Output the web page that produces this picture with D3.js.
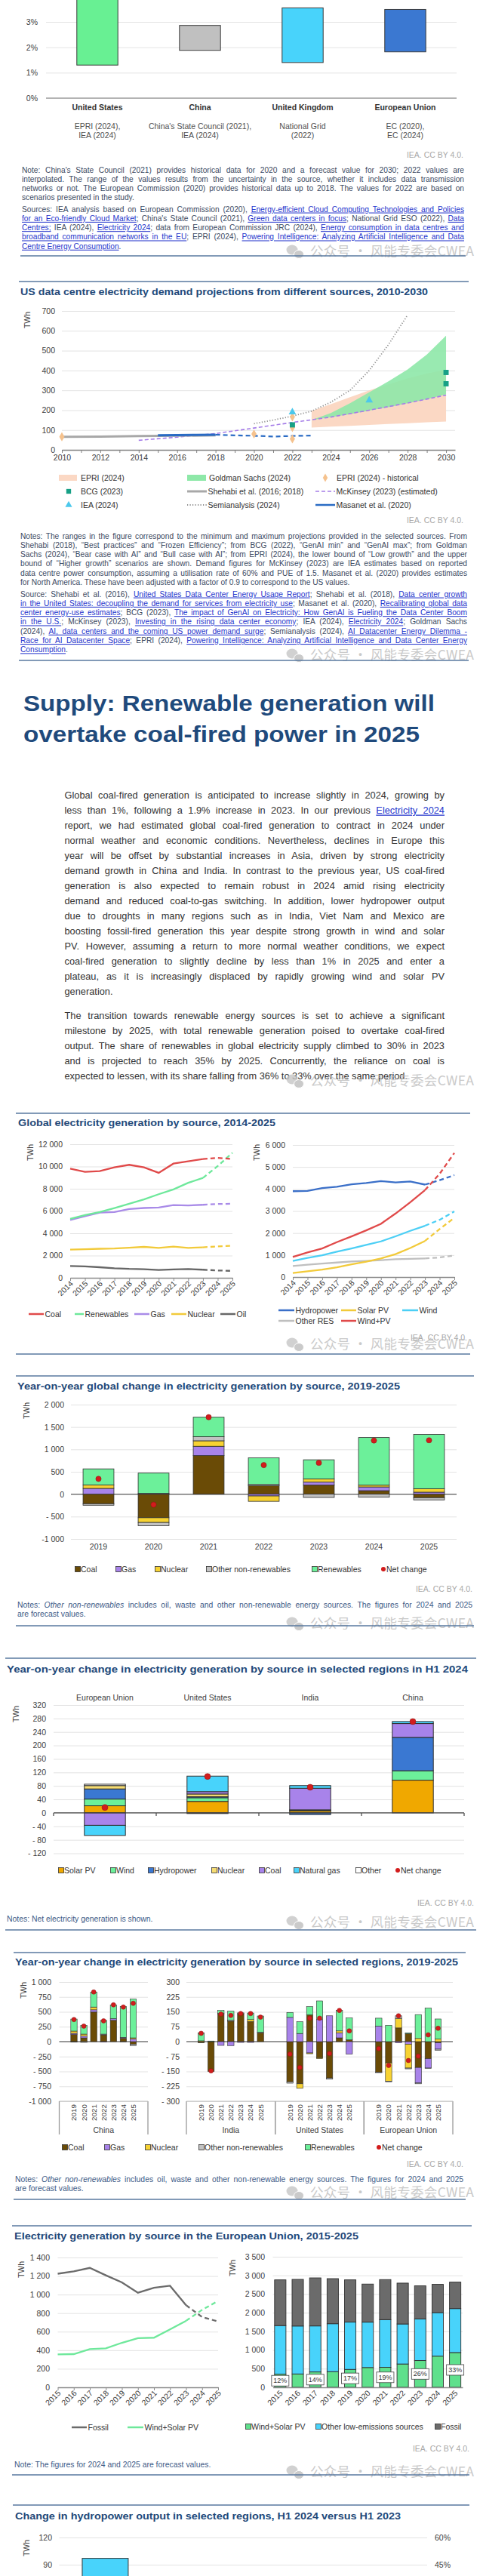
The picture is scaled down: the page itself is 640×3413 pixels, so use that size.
<!DOCTYPE html>
<html>
<head>
<meta charset="utf-8">
<title>Electricity mid-year update</title>
<script src="https://cdn.jsdelivr.net/npm/d3@7/dist/d3.min.js"></script>
<style>
  body { margin: 0; background: #fff; }
  svg { display: block; }
</style>
</head>
<body>
<svg id="page" width="640" height="3413"></svg>
<script>
// ---------- data: data centre share of electricity demand (top chart, cut off) ----------
const shareRegions = ['United States', 'China', 'United Kingdom', 'European Union'];
const shareSources = [['EPRI (2024),', 'IEA (2024)'], ["China's State Council (2021),", 'IEA (2024)'], ['National Grid', '(2022)'], ['EC (2020),', 'EC (2024)']];
const shareLow = [1.3, 1.88, 1.4, 1.82];
const shareHigh = [4.6, 2.86, 3.55, 3.49];

// ---------- data: US data centre demand projections (TWh) ----------
const epriYears = [2023, 2024, 2025, 2026, 2027, 2028, 2029, 2030];
const epriLow = [112, 117, 121, 126, 130, 134, 139, 143];
const epriHigh = [196, 230, 265, 300, 330, 360, 385, 404];
const gsYears = [2023, 2024, 2025, 2026, 2027, 2028, 2029, 2030];
const gsLow = [150, 165, 180, 198, 215, 235, 255, 280];
const gsHigh = [150, 185, 235, 290, 345, 405, 480, 575];
const shehabiYears = [2010, 2012, 2014, 2016, 2018];
const shehabiVals = [66, 67, 69, 71, 73];
const masanetYears = [2015, 2016, 2017, 2018, 2019, 2020, 2021, 2022, 2023];
const masanetVals = [73, 74, 75, 76, 73, 71, 67, 70, 72];
const mckYears = [2014, 2016, 2018, 2020, 2022, 2024, 2026, 2028, 2030];
const mckVals = [48, 64, 82, 110, 138, 165, 200, 236, 276];
const semiYears = [2020, 2021, 2022, 2023, 2024, 2025, 2026, 2027, 2028];
const semiVals = [132, 150, 170, 195, 240, 300, 400, 530, 680];
const epriHist = [[2010, 66], [2020, 80], [2022, 55], [2022, 112], [2022, 166]];
const bcgPoints = [[2022, 126], [2030, 390], [2030, 333]];
const ieaPoints = [[2022, 190], [2026, 250]];

// ---------- data: global generation by source 2014-2025 (TWh) ----------
const genYears = [2014, 2015, 2016, 2017, 2018, 2019, 2020, 2021, 2022, 2023, 2024, 2025];
const genCoal = [9810, 9520, 9590, 9920, 10150, 9920, 9430, 10260, 10470, 10670, 10780, 10670];
const genRenew = [5300, 5640, 5910, 6270, 6650, 7040, 7510, 7940, 8530, 8980, 10040, 11230];
const genGas = [5190, 5530, 5860, 5910, 6180, 6270, 6320, 6540, 6500, 6560, 6630, 6650];
const genNuclear = [2530, 2570, 2610, 2630, 2710, 2780, 2680, 2800, 2690, 2740, 2820, 2880];
const genOil = [1060, 1030, 950, 860, 800, 770, 700, 760, 790, 730, 660, 620];
const genHydro = [3900, 3910, 4040, 4100, 4210, 4270, 4360, 4300, 4340, 4200, 4400, 4630];
const genSolar = [185, 260, 340, 445, 580, 700, 845, 1040, 1320, 1640, 2180, 2690];
const genWind = [730, 870, 990, 1150, 1300, 1460, 1620, 1850, 2100, 2330, 2600, 2980];
const genOtherRes = [500, 560, 615, 660, 705, 730, 765, 810, 830, 845, 890, 980];
const genWindPv = [913, 1118, 1301, 1586, 1848, 2122, 2419, 2887, 3400, 3948, 4690, 5637];

// ---------- data: global year-on-year change 2019-2025 (TWh) ----------
const yoyYears = ['2019', '2020', '2021', '2022', '2023', '2024', '2025'];
const yoyCoal = [-213, -526, 862, 190, 202, 78, -78];
const yoyGas = [129, 17, 207, -40, 67, 84, 45];
const yoyNuclear = [78, -106, 123, -120, 73, 39, 78];
const yoyOther = [-34, -73, 90, 28, -73, -67, -50];
const yoyRenew = [358, 454, 437, 594, 426, 1064, 1210];
const yoyNet = [342, -235, 1719, 650, 700, 1198, 1204];

// ---------- data: H1 2024 change by region (TWh) ----------
const h1Regions = ['European Union', 'United States', 'India', 'China'];
const h1Solar = [21, 34, 6, 97];
const h1Wind = [20, 11, 2, 28];
const h1Hydro = [30, 3, -5, 99];
const h1Nuclear = [10, 8, 1, 0];
const h1Coal = [-37, 7, 64, 41];
const h1Gas = [-30, 46, 8, 6];
const h1Other = [4, -2, 0, 0];
const h1Net = [16, 108, 76, 271];

// ---------- data: regional year-on-year change 2019-2025 (TWh) ----------
const chinaYoY = {
  coal: [118, 63, 496, 113, 357, 55, -45], gas: [21, 29, 38, -8, 29, 17, 42], nuclear: [38, 34, 46, 0, 0, 0, 21],
  other: [-9, -13, 0, 13, 0, -8, -22], renew: [202, 147, 252, 231, 231, 517, 651], net: [370, 260, 832, 349, 617, 580, 643]
};
const indiaYoY = {
  coal: [-6, -150, 139, 103, 141, 101, 44], gas: [0, 0, -19, -20, -4, -4, 0], nuclear: [4, 0, 0, 0, 0, 10, 0],
  other: [0, 0, 4, 5, 4, 0, 3], renew: [40, 3, 14, 45, 0, 33, 82], net: [42, -147, 139, 132, 141, 141, 123]
};
const usYoY = {
  coal: [-202, -212, 135, -82, -183, 19, 9], gas: [122, 41, -57, 111, 130, 25, -63], nuclear: [0, -23, -4, -4, 0, 10, 0],
  other: [-7, 0, 0, 0, -6, 0, 0], renew: [25, 59, 41, 94, 0, 103, 110], net: [-63, -130, 118, 118, -60, 157, 54]
};
const euYoY = {
  coal: [-154, -107, 69, 40, -130, -86, -6], gas: [78, 0, -6, -13, -78, -47, -32], nuclear: [0, -92, 48, -120, 16, 0, 13],
  other: [-2, -3, 13, -4, -4, -2, -6], renew: [40, 82, 0, 4, 120, 169, 101], net: [-35, -120, 130, -95, -73, 34, 67]
};

// ---------- data: EU generation 2015-2025 (TWh) ----------
const euYears = ['2015', '2016', '2017', '2018', '2019', '2020', '2021', '2022', '2023', '2024', '2025'];
const euFossil = [1225, 1250, 1288, 1208, 1132, 1020, 1073, 1095, 886, 758, 710];
const euWindSolar = [355, 358, 412, 420, 480, 530, 535, 625, 717, 835, 932];
const euOtherLow = [1300, 1285, 1233, 1285, 1268, 1217, 1279, 1073, 1117, 1167, 1178];

// ---------- data: hydropower change H1 2024 vs H1 2023 (only first bar reaches the page) ----------
const hydroValues = [97];

// ---------- helpers ----------
const FONT = '"Liberation Sans", Arial, sans-serif';
const PAGE_H = 3413;
const svg = d3.select('#page').attr('font-family', FONT);
const thou = d3.format(',');

function fmtNum(v) {
  const s = thou(Math.abs(v)).replace(/,/g, ' ');
  if (v < 0) return (Math.abs(v) >= 1000 ? '-' : '- ') + s;
  return s;
}

function rule(y, x1, x2) {
  svg.append('line').attr('x1', x1).attr('x2', x2).attr('y1', y).attr('y2', y)
    .attr('stroke', '#58799f').attr('stroke-width', 1.4);
}

function hline(x1, x2, y, color, w) {
  svg.append('line').attr('x1', x1).attr('x2', x2).attr('y1', y).attr('y2', y)
    .attr('stroke', color).attr('stroke-width', w);
}

function title(txt, x, cy, w) {
  svg.append('text').attr('x', x).attr('y', cy + 4.5)
    .attr('font-size', 13).attr('font-weight', 'bold').attr('fill', '#22497a')
    .attr('textLength', w).attr('lengthAdjust', 'spacingAndGlyphs').text(txt);
}

function credit(cy, xr) {
  svg.append('text').attr('x', xr).attr('y', cy + 3.7).attr('text-anchor', 'end')
    .attr('font-size', 10.5).attr('fill', '#a8a8a8').text('IEA. CC BY 4.0.');
}

function watermark(cy) {
  const g = svg.append('g').attr('opacity', 0.8);
  g.append('ellipse').attr('cx', 387).attr('cy', cy - 2).attr('rx', 7.5).attr('ry', 6.5).attr('fill', '#c6c6c6');
  g.append('ellipse').attr('cx', 396).attr('cy', cy + 4).attr('rx', 6.5).attr('ry', 5.5).attr('fill', '#bdbdbd')
    .attr('stroke', '#fff').attr('stroke-width', 1);
  g.append('text').attr('x', 411).attr('y', cy + 6).attr('font-family', '"Noto Sans CJK SC", sans-serif')
    .attr('font-size', 17.5).attr('fill', '#bdbdbd').attr('textLength', 217).attr('lengthAdjust', 'spacing')
    .text('公众号 · 风能专委会CWEA');
}

function ytitle(x, cy) {
  svg.append('text').attr('transform', `translate(${x},${cy}) rotate(-90)`).attr('text-anchor', 'middle')
    .attr('dy', '0.35em').attr('font-size', 10.5).attr('fill', '#404040').text('TWh');
}

// justified lines of running text; parts are plain strings or {t, link, it}
function lines(rows, x, cy, lh, w, size, color) {
  rows.forEach((row, i) => {
    const t = svg.append('text').attr('x', x).attr('y', cy + i * lh + size * 0.35)
      .attr('font-size', size).attr('fill', color);
    (Array.isArray(row) ? row : [row]).forEach(p => {
      const plain = typeof p === 'string';
      const s = t.append('tspan').text(plain ? p : p.t);
      if (!plain && p.link) s.attr('fill', '#2535cc').style('text-decoration', 'underline');
      if (!plain && p.it) s.attr('font-style', 'italic');
    });
    let nat = t.node().getComputedTextLength();
    if (nat > w) {
      // shrink a too-long line instead of squeezing glyphs together
      t.attr('font-size', size * w / nat * 0.995);
      nat = t.node().getComputedTextLength();
    }
    if (i === rows.length - 1) return;
    const gaps = (t.text().match(/ /g) || []).length;
    if (gaps && nat < w) t.attr('word-spacing', (w - nat) / gaps);
  });
}

function fixAxis(g) {
  g.attr('font-family', FONT).attr('font-size', 10.5);
  g.selectAll('.tick text').attr('fill', '#404040');
  return g;
}

function yGrid(x0, x1, y, ticks, pad, fmt) {
  const g = svg.append('g').attr('transform', `translate(${x0},0)`)
    .call(d3.axisLeft(y).tickValues(ticks).tickSize(x0 - x1).tickPadding(pad).tickFormat(fmt || fmtNum));
  g.select('.domain').remove();
  g.selectAll('.tick line').attr('stroke', '#e3e3e3');
  return fixAxis(g);
}

function tiltedAxis(y0, x, tick) {
  const g = svg.append('g').attr('transform', `translate(0,${y0})`)
    .call(d3.axisBottom(x).tickSize(tick).tickSizeOuter(0));
  g.select('.domain').attr('stroke', '#8c8c8c').attr('stroke-width', 1.3);
  g.selectAll('.tick line').attr('stroke', '#8c8c8c');
  g.selectAll('.tick text').attr('x', -3).attr('y', 5).attr('dy', '0.35em')
    .attr('transform', 'rotate(-45)').style('text-anchor', 'end');
  return fixAxis(g);
}

function stackBars(rows, keys, x, y, colors, sw) {
  const series = d3.stack().keys(keys).offset(d3.stackOffsetDiverging)(rows);
  svg.append('g').selectAll('g').data(series).join('g').attr('fill', (d, i) => colors[i])
    .selectAll('rect').data(d => d).join('rect')
    .attr('x', d => x(d.data.cat)).attr('width', x.bandwidth())
    .attr('y', d => y(d[1])).attr('height', d => Math.max(0, y(d[0]) - y(d[1])))
    .attr('stroke', d => d[1] !== d[0] ? '#2f2f2f' : 'none').attr('stroke-width', sw);
}

function netDots(cats, vals, x, y, r) {
  svg.append('g').selectAll('circle').data(cats).join('circle')
    .attr('cx', d => x(d) + x.bandwidth() / 2).attr('cy', (d, i) => y(vals[i])).attr('r', r)
    .attr('fill', '#d21c1c').attr('stroke', '#8a1414').attr('stroke-width', 0.5);
}

function legendSquare(x, cy, color, label) {
  svg.append('rect').attr('x', x - 3.5).attr('y', cy - 3.5).attr('width', 7).attr('height', 7)
    .attr('fill', color).attr('stroke', '#333').attr('stroke-width', 0.8);
  svg.append('text').attr('x', x + 4).attr('y', cy + 3.7).attr('font-size', 10.5).attr('fill', '#333').text(label);
}
function legendDot(x, cy, label) {
  svg.append('circle').attr('cx', x).attr('cy', cy).attr('r', 3).attr('fill', '#d21c1c');
  svg.append('text').attr('x', x + 4).attr('y', cy + 3.7).attr('font-size', 10.5).attr('fill', '#333').text(label);
}
function legendLine(x1, x2, cy, color, label, dash, w) {
  svg.append('line').attr('x1', x1).attr('x2', x2).attr('y1', cy).attr('y2', cy)
    .attr('stroke', color).attr('stroke-width', w || 2.5).attr('stroke-dasharray', dash || null);
  svg.append('text').attr('x', x2 + 1.5).attr('y', cy + 3.7).attr('font-size', 10.5).attr('fill', '#333').text(label);
}

const NOTE = '#3c4a62';
const NOTE2 = '#3d5a86';

// ================= top chart (continued from previous page) =================
{
  const x = d3.scaleBand().domain(shareRegions).range([61, 605]).paddingInner(0.6).paddingOuter(0.3);
  const y = d3.scaleLinear().domain([0, 4]).range([130, -4.7]);
  const colors = ['#68f093', '#c0c0c0', '#48d3fb', '#3b78d1'];
  yGrid(61, 605, y, [0, 1, 2, 3], 11, d => d + '%');
  hline(61, 605, y(0), '#a3a3a3', 1.6);
  svg.append('g').selectAll('rect').data(shareRegions).join('rect')
    .attr('x', d => x(d)).attr('width', x.bandwidth())
    .attr('y', (d, i) => y(shareHigh[i])).attr('height', (d, i) => y(shareLow[i]) - y(shareHigh[i]))
    .attr('fill', (d, i) => colors[i]).attr('stroke', '#3a3a3a').attr('stroke-width', 1);
  const lab = svg.append('g').attr('text-anchor', 'middle').attr('font-size', 10.5).attr('fill', '#333');
  shareRegions.forEach((r, i) => {
    const cx = x(r) + x.bandwidth() / 2;
    lab.append('text').attr('x', cx).attr('y', 145.7).attr('font-weight', 'bold').text(r);
    shareSources[i].forEach((s, j) => lab.append('text').attr('x', cx).attr('y', 170.7 + j * 12.3).attr('fill', '#505050').text(s));
  });
}
credit(205, 614);
lines([
  "Note: China's State Council (2021) provides historical data for 2020 and a forecast value for 2030; 2022 values are",
  'interpolated. The range of the values results from the uncertainty in the source, whether it includes data transmission',
  'networks or not. The European Commission (2020) provides historical data up to 2018. The values for 2022 are based on',
  'scenarios presented in the study.'
], 29, 225, 12.3, 586, 10.2, NOTE);
lines([
  ['Sources: IEA analysis based on European Commission (2020), ', { t: 'Energy-efficient Cloud Computing Technologies and Policies', link: true }],
  [{ t: 'for an Eco-friendly Cloud Market', link: true }, "; China's State Council (2021), ", { t: 'Green data centers in focus', link: true }, '; National Grid ESO (2022), ', { t: 'Data', link: true }],
  [{ t: 'Centres;', link: true }, ' IEA (2024), ', { t: 'Electricity 2024', link: true }, '; data from European Commission JRC (2024), ', { t: 'Energy consumption in data centres and', link: true }],
  [{ t: 'broadband communication networks in the EU', link: true }, '; EPRI (2024), ', { t: 'Powering Intelligence: Analyzing Artificial Intelligence and Data', link: true }],
  [{ t: 'Centre Energy Consumption', link: true }, '.']
], 29, 277, 12.3, 586, 10.2, NOTE);
watermark(333);
rule(339, 27, 617);

// ================= US data centre electricity demand projections =================
rule(373, 25, 621);
title('US data centre electricity demand projections from different sources, 2010-2030', 27, 386, 540);
{
  const x = d3.scaleLinear().domain([2010, 2030.47]).range([82, 603]);
  const y = d3.scaleLinear().domain([0, 700]).range([596, 412]);
  yGrid(82, 603, y, d3.range(0, 701, 100), 9);
  ytitle(36, 424);
  const ax = svg.append('g').attr('transform', 'translate(0,596)')
    .call(d3.axisBottom(x).tickValues(d3.range(2010, 2031)).tickSize(4).tickSizeOuter(0)
      .tickFormat(d => d % 2 === 0 ? d : ''));
  ax.select('.domain').attr('stroke', '#808080').attr('stroke-width', 1.4);
  ax.selectAll('.tick line').attr('stroke', '#808080');
  fixAxis(ax);

  const area = (yrs, lo, hi) => d3.area().x((d, i) => x(yrs[i])).y0((d, i) => y(lo[i])).y1((d, i) => y(hi[i]))(yrs);
  svg.append('path').attr('d', area(epriYears, epriLow, epriHigh)).attr('fill', '#fbd8c4');
  svg.append('path').attr('d', area(gsYears, gsLow, gsHigh)).attr('fill', '#8ee8a8').attr('opacity', 0.9);

  const line = (yrs, vals) => d3.line().x((d, i) => x(yrs[i])).y((d, i) => y(vals[i]))(yrs);
  svg.append('path').attr('d', line(mckYears, mckVals)).attr('fill', 'none').attr('stroke', '#a57de8')
    .attr('stroke-width', 1.6).attr('stroke-dasharray', '5,3');
  svg.append('path').attr('d', line(semiYears, semiVals)).attr('fill', 'none').attr('stroke', '#8f8f8f')
    .attr('stroke-width', 1.8).attr('stroke-dasharray', '1.2,2.3');
  svg.append('path').attr('d', line(shehabiYears, shehabiVals)).attr('fill', 'none').attr('stroke', '#a8a8a8').attr('stroke-width', 3);
  const cut = masanetYears.indexOf(2018);
  svg.append('path').attr('d', line(masanetYears.slice(0, cut + 1), masanetVals.slice(0, cut + 1)))
    .attr('fill', 'none').attr('stroke', '#2a6bc4').attr('stroke-width', 3);
  svg.append('path').attr('d', line(masanetYears.slice(cut), masanetVals.slice(cut)))
    .attr('fill', 'none').attr('stroke', '#2a6bc4').attr('stroke-width', 2.2).attr('stroke-dasharray', '6,4');

  const sym = (pts, type, size, color) => svg.append('g').selectAll('path').data(pts).join('path')
    .attr('transform', d => `translate(${x(d[0])},${y(d[1])})`)
    .attr('d', d3.symbol(type, size)).attr('fill', color);
  sym(epriHist, d3.symbolDiamond, 42, '#f5c28e');
  sym(bcgPoints, d3.symbolSquare, 48, '#17a086');
  sym(ieaPoints, d3.symbolTriangle, 42, '#4cc8ec');

  // legend
  svg.append('rect').attr('x', 78).attr('y', 629).attr('width', 24).attr('height', 8).attr('fill', '#fbd8c4');
  svg.append('rect').attr('x', 248).attr('y', 629).attr('width', 25).attr('height', 8).attr('fill', '#8ee8a8');
  svg.append('path').attr('transform', 'translate(431,633)').attr('d', d3.symbol(d3.symbolDiamond, 36)).attr('fill', '#f5c28e');
  svg.append('path').attr('transform', 'translate(91,651)').attr('d', d3.symbol(d3.symbolSquare, 40)).attr('fill', '#17a086');
  svg.append('path').attr('transform', 'translate(91,669)').attr('d', d3.symbol(d3.symbolTriangle, 36)).attr('fill', '#4cc8ec');
  const t = (x0, cy, s) => svg.append('text').attr('x', x0).attr('y', cy + 3.7).attr('font-size', 10.5).attr('fill', '#333').text(s);
  t(107, 633, 'EPRI (2024)'); t(277, 633, 'Goldman Sachs (2024)'); t(446, 633, 'EPRI (2024) - historical');
  t(107, 651, 'BCG (2023)'); t(107, 669, 'IEA (2024)');
  legendLine(248, 274, 651, '#a8a8a8', 'Shehabi et al. (2016; 2018)', null, 3);
  legendLine(248, 274, 669, '#8f8f8f', 'Semianalysis (2024)', '1.2,2.3', 1.8);
  legendLine(418, 444, 651, '#a57de8', 'McKinsey (2023) (estimated)', '5,3', 1.6);
  legendLine(418, 444, 669, '#2a6bc4', 'Masanet et al. (2020)', null, 2.5);
}
credit(689, 614);
lines([
  'Notes: The ranges in the figure correspond to the minimum and maximum projections provided in the selected sources. From',
  'Shehabi (2018), \u201cBest practices\u201d and \u201cFrozen Efficiency\u201d; from BCG (2022), \u201cGenAI min\u201d and \u201cGenAI max\u201d; from Goldman',
  'Sachs (2024), \u201cBear case with AI\u201d and \u201cBull case with AI\u201d; from EPRI (2024), the lower bound of \u201cLow growth\u201d and the upper',
  'bound of \u201cHigher growth\u201d scenarios are shown. Demand figures for McKinsey (2023) are IEA estimates based on reported',
  'data centre power consumption, assuming a utilisation rate of 60% and PUE of 1.5. Masanet et al. (2020) provides estimates',
  'for North America. These have been adjusted with a factor of 0.9 to correspond to the US values.'
], 27, 710, 12.3, 592, 10.2, NOTE);
lines([
  ['Source: Shehabi et al. (2016), ', { t: 'United States Data Center Energy Usage Report', link: true }, '; Shehabi et al. (2018), ', { t: 'Data center growth', link: true }],
  [{ t: 'in the United States: decoupling the demand for services from electricity use', link: true }, '; Masanet et al. (2020), ', { t: 'Recalibrating global data', link: true }],
  [{ t: 'center energy-use estimates', link: true }, '; BCG (2023), ', { t: 'The impact of GenAI on Electricity: How GenAI is Fueling the Data Center Boom', link: true }],
  [{ t: 'in the U.S.', link: true }, '; McKinsey (2023), ', { t: 'Investing in the rising data center economy', link: true }, '; IEA (2024), ', { t: 'Electricity 2024', link: true }, '; Goldman Sachs'],
  ['(2024), ', { t: 'AI, data centers and the coming US power demand surge', link: true }, '; Semianalysis (2024), ', { t: 'AI Datacenter Energy Dilemma -', link: true }],
  [{ t: 'Race for AI Datacenter Space', link: true }, '; EPRI (2024), ', { t: 'Powering Intelligence: Analyzing Artificial Intelligence and Data Center Energy', link: true }],
  [{ t: 'Consumption', link: true }, '.']
], 27, 787, 12.3, 592, 10.2, NOTE);
watermark(868);
rule(875, 25, 621);

// ================= section heading + text =================
svg.append('text').attr('x', 31).attr('y', 942).attr('font-size', 29).attr('font-weight', 'bold').attr('fill', '#1f4a7c')
  .attr('textLength', 545).attr('lengthAdjust', 'spacingAndGlyphs').text('Supply: Renewable generation will');
svg.append('text').attr('x', 31).attr('y', 983).attr('font-size', 29).attr('font-weight', 'bold').attr('fill', '#1f4a7c')
  .attr('textLength', 525).attr('lengthAdjust', 'spacingAndGlyphs').text('overtake coal-fired power in 2025');
lines([
  'Global coal-fired generation is anticipated to increase slightly in 2024, growing by',
  ['less than 1%, following a 1.9% increase in 2023. In our previous ', { t: 'Electricity 2024', link: true }],
  'report, we had estimated global coal-fired generation to contract in 2024 under',
  'normal weather and economic conditions. Nevertheless, declines in Europe this',
  'year will be offset by substantial increases in Asia, driven by strong electricity',
  'demand growth in China and India. In contrast to the previous year, US coal-fired',
  'generation is also expected to remain robust in 2024 amid rising electricity',
  'demand and reduced coal-to-gas switching. In addition, lower hydropower output',
  'due to droughts in many regions such as in India, Viet Nam and Mexico are',
  'boosting fossil-fired generation this year despite strong growth in wind and solar',
  'PV. However, assuming a return to more normal weather conditions, we expect',
  'coal-fired generation to slightly decline by less than 1% in 2025 and enter a',
  'plateau, as it is increasingly displaced by rapidly growing wind and solar PV',
  'generation.'
], 85.5, 1054, 20, 503.5, 12.8, '#333');
lines([
  'The transition towards renewable energy sources is set to achieve a significant',
  'milestone by 2025, with total renewable generation poised to overtake coal-fired',
  'output. The share of renewables in global electricity supply climbed to 30% in 2023',
  'and is projected to reach 35% by 2025. Concurrently, the reliance on coal is',
  'expected to lessen, with its share falling from 36% to 33% over the same period.'
], 85.5, 1346, 20, 503.5, 12.8, '#333');
watermark(1432);
rule(1475, 21, 623);

// ================= global electricity generation by source =================
title('Global electricity generation by source, 2014-2025', 24, 1487, 341);
function genLines(x, y, series) {
  const split = genYears.indexOf(2023);
  series.forEach(([vals, color]) => {
    const ln = d3.line().x(d => x(d)).y(d => y(vals[genYears.indexOf(d)]));
    svg.append('path').attr('d', ln(genYears.slice(0, split + 1))).attr('fill', 'none').attr('stroke', color).attr('stroke-width', 2.3);
    svg.append('path').attr('d', ln(genYears.slice(split))).attr('fill', 'none').attr('stroke', color)
      .attr('stroke-width', 2.3).attr('stroke-dasharray', '6,4');
  });
}
{
  const x = d3.scalePoint().domain(genYears).range([93, 308]);
  const y = d3.scaleLinear().domain([0, 12000]).range([1693, 1516]);
  yGrid(93, 308, y, d3.range(0, 12001, 2000), 10);
  ytitle(40, 1527);
  tiltedAxis(1693, x, 4);
  genLines(x, y, [[genOil, '#666666'], [genNuclear, '#f2ca3a'], [genGas, '#a98be8'], [genRenew, '#6ee89b'], [genCoal, '#e04a4a']]);
  legendLine(38, 58, 1741, '#e04a4a', 'Coal');
  legendLine(99, 111, 1741, '#6ee89b', 'Renewables');
  legendLine(178, 198, 1741, '#a98be8', 'Gas');
  legendLine(227, 247, 1741, '#f2ca3a', 'Nuclear');
  legendLine(292, 312, 1741, '#666666', 'Oil');
}
{
  const x = d3.scalePoint().domain(genYears).range([388, 602]);
  const y = d3.scaleLinear().domain([0, 6000]).range([1692, 1517]);
  yGrid(388, 602, y, d3.range(0, 6001, 1000), 10);
  ytitle(340, 1527);
  tiltedAxis(1692, x, 4);
  genLines(x, y, [[genOtherRes, '#bfbfbf'], [genSolar, '#f2ca3a'], [genWind, '#4ccff5'], [genHydro, '#3a6fc8'], [genWindPv, '#e04a4a']]);
  legendLine(369, 390, 1736, '#3a6fc8', 'Hydropower');
  legendLine(452, 472, 1736, '#f2ca3a', 'Solar PV');
  legendLine(533, 554, 1736, '#4ccff5', 'Wind');
  legendLine(369, 390, 1750, '#bfbfbf', 'Other RES');
  legendLine(452, 472, 1750, '#e04a4a', 'Wind+PV');
}
credit(1772, 619);
watermark(1781);
rule(1794, 21, 623);

// ================= year-on-year global change =================
const srcKeys = ['coal', 'gas', 'nuclear', 'other', 'renew'];
const srcColors = ['#6a4b06', '#a883ea', '#f7d232', '#c2c2c2', '#6cf09a'];
rule(1823, 21, 628);
title('Year-on-year global change in electricity generation by source, 2019-2025', 23, 1836, 507);
{
  const x = d3.scaleBand().domain(yoyYears).range([94, 605]).paddingInner(0.44).paddingOuter(0.22);
  const y = d3.scaleLinear().domain([-1000, 2000]).range([2039, 1861]);
  yGrid(94, 605, y, d3.range(-1000, 2001, 500), 9);
  hline(94, 605, y(0), '#7a7a7a', 1.5);
  ytitle(35, 1869);
  const rows = yoyYears.map((yr, i) => ({ cat: yr, coal: yoyCoal[i], gas: yoyGas[i], nuclear: yoyNuclear[i], other: yoyOther[i], renew: yoyRenew[i] }));
  stackBars(rows, srcKeys, x, y, srcColors, 0.8);
  netDots(yoyYears, yoyNet, x, y, 3.6);
  svg.append('g').selectAll('text').data(yoyYears).join('text')
    .attr('x', d => x(d) + x.bandwidth() / 2).attr('y', 2049 + 3.7).attr('text-anchor', 'middle')
    .attr('font-size', 10.5).attr('fill', '#404040').text(d => d);
  legendSquare(103, 2079, srcColors[0], 'Coal');
  legendSquare(157, 2079, srcColors[1], 'Gas');
  legendSquare(209, 2079, srcColors[2], 'Nuclear');
  legendSquare(277, 2079, srcColors[3], 'Other non-renewables');
  legendSquare(417, 2079, srcColors[4], 'Renewables');
  legendDot(508, 2079, 'Net change');
}
credit(2105, 626);
lines([
  ['Notes: ', { t: 'Other non-renewables', it: true }, ' includes oil, waste and other non-renewable energy sources. The figures for 2024 and 2025'],
  'are forecast values.'
], 23, 2126, 12.5, 603, 10.4, NOTE2);
watermark(2151);
rule(2154, 21, 628);

// ================= H1 2024 change by region =================
rule(2197, 7, 631);
title('Year-on-year change in electricity generation by source in selected regions in H1 2024', 9, 2211, 611);
{
  const keys = ['solar', 'wind', 'hydro', 'nuclear', 'coal', 'gas', 'other'];
  const colors = ['#f0a800', '#6cf09a', '#3a78d2', '#f6dc72', '#a883ea', '#48d3fb', '#ffffff'];
  const x = d3.scaleBand().domain(h1Regions).range([71, 615]).paddingInner(0.6).paddingOuter(0.3);
  const y = d3.scaleLinear().domain([-120, 320]).range([2455.5, 2259]);
  yGrid(71, 615, y, d3.range(-120, 321, 40), 10);
  ytitle(21, 2271);
  const rows = h1Regions.map((r, i) => ({ cat: r, solar: h1Solar[i], wind: h1Wind[i], hydro: h1Hydro[i], nuclear: h1Nuclear[i], coal: h1Coal[i], gas: h1Gas[i], other: h1Other[i] }));
  stackBars(rows, keys, x, y, colors, 1);
  hline(71, 615, y(0), '#444', 1.4);
  d3.range(h1Regions.length + 1).forEach(i => {
    const bx = x.range()[0] + i * x.step();
    svg.append('line').attr('x1', bx).attr('x2', bx).attr('y1', y(0)).attr('y2', y(0) + 4).attr('stroke', '#444').attr('stroke-width', 1.2);
  });
  netDots(h1Regions, h1Net, x, y, 4);
  svg.append('g').selectAll('text').data(h1Regions).join('text')
    .attr('x', d => x(d) + x.bandwidth() / 2).attr('y', 2249 + 3.7).attr('text-anchor', 'middle')
    .attr('font-size', 10.5).attr('fill', '#404040').text(d => d);
  const names = ['Solar PV', 'Wind', 'Hydropower', 'Nuclear', 'Coal', 'Natural gas', 'Other'];
  const lx = [81, 150, 200, 284, 347, 393, 475];
  names.forEach((n, i) => legendSquare(lx[i], 2478, colors[i], n));
  legendDot(527, 2478, 'Net change');
}
credit(2521, 628);
lines(['Notes: Net electricity generation is shown.'], 9, 2542, 12.5, 600, 10.4, NOTE2);
watermark(2547);
rule(2557, 7, 631);

// ================= regional year-on-year change 2019-2025 =================
rule(2587, 18, 617);
title('Year-on-year change in electricity generation by source in selected regions, 2019-2025', 20, 2599, 587);
{
  const yC = d3.scaleLinear().domain([-1000, 1000]).range([2784, 2626]);
  const yR = d3.scaleLinear().domain([-300, 300]).range([2784, 2626]);
  yGrid(78.5, 196, yC, d3.range(-1000, 1001, 250), 10.5);
  yGrid(247, 600, yR, d3.range(-300, 301, 75), 9);
  ytitle(31, 2637);
  hline(78.5, 196, yC(0), '#7a7a7a', 1.5);
  hline(247, 600, yR(0), '#7a7a7a', 1.5);
  const gx = d3.scaleBand().domain(['India', 'United States', 'European Union']).range([247, 600]);
  const panels = [
    ['China', chinaYoY, yC, 78.5, 196],
    ['India', indiaYoY, yR, gx('India'), gx('India') + gx.bandwidth()],
    ['United States', usYoY, yR, gx('United States'), gx('United States') + gx.bandwidth()],
    ['European Union', euYoY, yR, gx('European Union'), gx('European Union') + gx.bandwidth()]
  ];
  panels.forEach(([name, dat, y, x0, x1]) => {
    const x = d3.scaleBand().domain(yoyYears).range([x0, x1]).paddingInner(0.36).paddingOuter(1.17);
    const rows = yoyYears.map((yr, i) => ({ cat: yr, coal: dat.coal[i], gas: dat.gas[i], nuclear: dat.nuclear[i], other: dat.other[i], renew: dat.renew[i] }));
    stackBars(rows, srcKeys, x, y, srcColors, 0.6);
    netDots(yoyYears, dat.net, x, y, 3);
    [x0, x1].forEach(v => svg.append('line').attr('x1', v).attr('x2', v).attr('y1', 2784).attr('y2', 2828)
      .attr('stroke', '#9a9a9a').attr('stroke-width', 1.3));
    hline(x0, x1, 2784, '#bdbdbd', 1.2);
    svg.append('g').selectAll('text').data(yoyYears).join('text')
      .attr('transform', d => `translate(${x(d) + x.bandwidth() / 2},2799) rotate(-90)`)
      .attr('text-anchor', 'middle').attr('dy', '0.35em').attr('font-size', 9.8).attr('fill', '#404040').text(d => d);
    svg.append('text').attr('x', (x0 + x1) / 2).attr('y', 2822 + 3.7).attr('text-anchor', 'middle')
      .attr('font-size', 10.5).attr('fill', '#404040').text(name);
  });
  legendSquare(86, 2845, srcColors[0], 'Coal');
  legendSquare(142, 2845, srcColors[1], 'Gas');
  legendSquare(196, 2845, srcColors[2], 'Nuclear');
  legendSquare(267, 2845, srcColors[3], 'Other non-renewables');
  legendSquare(408, 2845, srcColors[4], 'Renewables');
  legendDot(502, 2845, 'Net change');
}
credit(2867, 614);
lines([
  ['Notes: ', { t: 'Other non-renewables', it: true }, ' includes oil, waste and other non-renewable energy sources. The figures for 2024 and 2025'],
  'are forecast values.'
], 20, 2887, 12.5, 594, 10.4, NOTE2);
watermark(2905);
rule(2914, 18, 617);

// ================= EU generation by source =================
rule(2949, 16, 625);
title('Electricity generation by source in the European Union, 2015-2025', 19, 2962, 456);
{
  const x = d3.scalePoint().domain(euYears).range([76.5, 289]);
  const y = d3.scaleLinear().domain([0, 1400]).range([3163, 2991]);
  yGrid(76.5, 289, y, d3.range(0, 1401, 200), 10.5);
  ytitle(28, 3007);
  tiltedAxis(3163, x, 4);
  const split = euYears.indexOf('2023');
  [[euFossil, '#6b6b6b'], [euWindSolar, '#6ee89b']].forEach(([vals, color]) => {
    const ln = d3.line().x(d => x(d)).y(d => y(vals[euYears.indexOf(d)]));
    svg.append('path').attr('d', ln(euYears.slice(0, split + 1))).attr('fill', 'none').attr('stroke', color).attr('stroke-width', 2.3);
    svg.append('path').attr('d', ln(euYears.slice(split))).attr('fill', 'none').attr('stroke', color)
      .attr('stroke-width', 2.3).attr('stroke-dasharray', '6,4');
  });
  legendLine(95, 115, 3216, '#6b6b6b', 'Fossil');
  legendLine(169, 190, 3216, '#6ee89b', 'Wind+Solar PV');
}
{
  const keys = ['ws', 'low', 'fossil'];
  const colors = ['#5fe08c', '#48d3fb', '#6b6b6b'];
  const x = d3.scaleBand().domain(euYears).range([361.5, 613]).paddingInner(0.35).paddingOuter(0.1);
  const y = d3.scaleLinear().domain([0, 3500]).range([3163, 2990]);
  yGrid(361.5, 613, y, d3.range(0, 3501, 500), 10.5);
  ytitle(308, 3005);
  const rows = euYears.map((yr, i) => ({ cat: yr, ws: euWindSolar[i], low: euOtherLow[i], fossil: euFossil[i] }));
  stackBars(rows, keys, x, y, colors, 0.9);
  const ax = tiltedAxis(3163, x, 0);
  ax.select('.domain').attr('stroke', '#8c8c8c');
  euYears.forEach((yr, i) => {
    if (i % 2) return;
    const share = Math.round(100 * euWindSolar[i] / (euWindSolar[i] + euOtherLow[i] + euFossil[i]));
    const cx = x(yr) + x.bandwidth() / 2, cy = y(euWindSolar[i] / 2);
    svg.append('rect').attr('x', cx - 11.5).attr('y', cy - 7).attr('width', 23).attr('height', 14)
      .attr('fill', '#fff').attr('stroke', '#444').attr('stroke-width', 0.8);
    svg.append('text').attr('x', cx).attr('y', cy + 3.2).attr('text-anchor', 'middle')
      .attr('font-size', 9).attr('fill', '#333').text(share + '%');
  });
  legendSquare(329, 3215, colors[0], 'Wind+Solar PV');
  legendSquare(422, 3215, colors[1], 'Other low-emissions sources');
  legendSquare(580, 3215, colors[2], 'Fossil');
}
credit(3244, 622);
lines(['Note: The figures for 2024 and 2025 are forecast values.'], 19, 3265, 12.5, 600, 10.4, NOTE2);
watermark(3275);
rule(3279, 16, 622);

// ================= hydropower change (cut off by the page) =================
rule(3319, 17, 622);
title('Change in hydropower output in selected regions, H1 2024 versus H1 2023', 20, 3333, 511);
{
  // four regions in the full chart; only the first bar reaches into the page
  const x = d3.scaleBand().domain(d3.range(4)).range([78.5, 566]).paddingInner(0.5).paddingOuter(0.25);
  const y = d3.scaleLinear().domain([0, 120]).range([3506, 3362]);
  // only the ticks that fall inside the page are labelled
  const ticks = d3.range(0, 121, 30).filter(t => y(t) < PAGE_H - 6);
  yGrid(78.5, 566, y, ticks, 9.5);
  ytitle(35, 3376);
  svg.append('g').selectAll('text').data(ticks).join('text')
    .attr('x', 576).attr('y', d => y(d) + 3.7).attr('font-size', 10.5).attr('fill', '#404040').text(d => (d / 2) + '%');
  svg.append('g').selectAll('rect').data(hydroValues).join('rect')
    .attr('x', (d, i) => x(i)).attr('width', x.bandwidth())
    .attr('y', d => y(d)).attr('height', d => y(0) - y(d))
    .attr('fill', '#48d3fb').attr('stroke', '#333').attr('stroke-width', 1);
}
</script>
</body>
</html>
